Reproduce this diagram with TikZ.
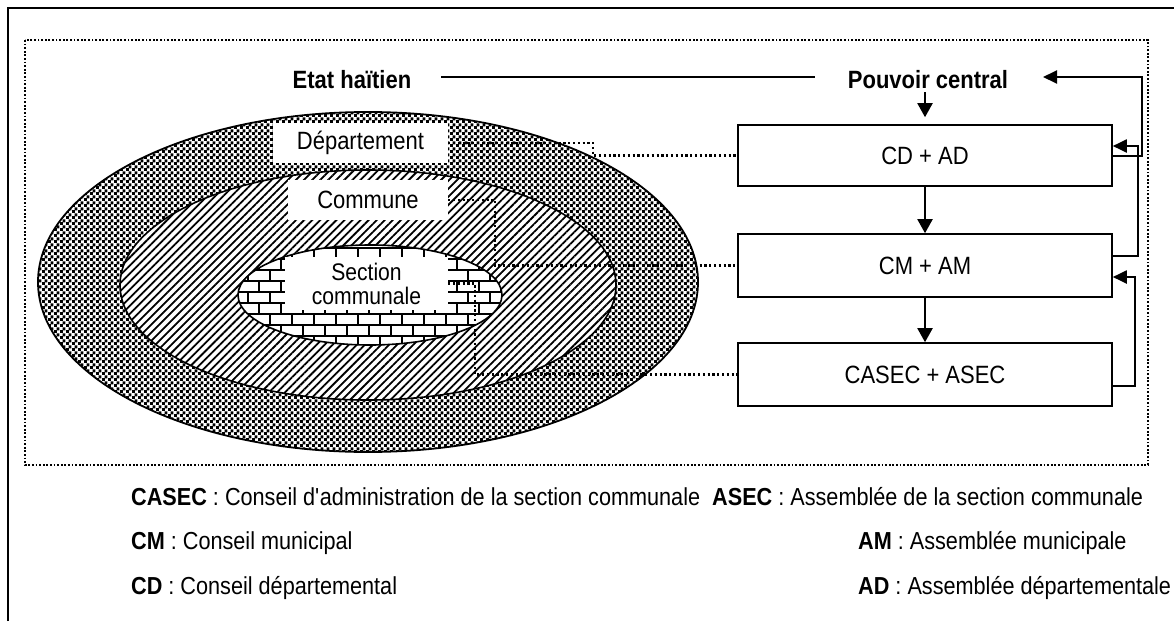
\documentclass[tikz,border=0pt]{standalone}
\usepackage{fontspec}
\setmainfont{Liberation Sans}[FakeStretch=0.88]
\usetikzlibrary{arrows.meta,patterns,patterns.meta,calc}

% fine checkerboard used for the département ring
\pgfdeclarepatternformonly{finechecks}{\pgfpointorigin}{\pgfqpoint{6pt}{6pt}}{\pgfqpoint{6pt}{6pt}}{%
  \pgfpathrectangle{\pgfpointorigin}{\pgfqpoint{3.4pt}{3.4pt}}%
  \pgfpathrectangle{\pgfqpoint{3pt}{3pt}}{\pgfqpoint{3.4pt}{3.4pt}}%
  \pgfusepath{fill}}

\begin{document}
\begin{tikzpicture}[x=1pt,y=-1pt,
  txt/.style={font=\fontsize{25}{27}\selectfont, inner sep=0pt},
  lab/.style={txt, fill=white, minimum height=40pt},
  levelbox/.style={txt, draw, line width=1.6pt, minimum width=374pt},
  arr/.style={line width=2pt, -{Triangle[width=15pt,length=14pt]}},
  loop/.style={line width=2pt, -{Triangle[width=13pt,length=14pt]}},
  dotc/.style={line width=2.2pt, dash pattern=on 2.2pt off 2.6pt},
  framedots/.style={line width=1.8pt, dash pattern=on 1.8pt off 1.8pt},
  brick/.style={line width=2.8pt},
  leg/.style={font=\fontsize{24.6}{26}\selectfont, inner sep=0pt, anchor=base west}]
\useasboundingbox (0,0) rectangle (1174,621);

% page frame (top and left edges) and dotted enclosure
\draw[line width=2pt] (8,621) -- (8,8) -- (1174,8);
\draw[framedots] (25,40) rectangle (1148,465);

% nested territories
\draw[line width=1.8pt, fill=white, postaction={pattern=finechecks}]
  (368,282) ellipse [x radius=330, y radius=170];
\path[fill=white] (368,285) ellipse [x radius=248, y radius=115];
\draw[line width=1.6pt, pattern={Lines[angle=45, distance=5.7pt, line width=1.8pt]}]
  (368,285) ellipse [x radius=248, y radius=115];
\path[fill=white] (370,295) ellipse [x radius=132, y radius=50];
\begin{scope}
  \clip (370,295) ellipse [x radius=132, y radius=50];
  \foreach \r in {0,...,9}{
    \pgfmathsetmacro\yy{248+11*\r}
    \pgfmathsetmacro\off{mod(\r,2)*11}
    \draw[brick] (230,\yy) -- (510,\yy);
    \foreach \k in {0,...,13}{
      \draw[brick] (226+\off+22*\k,\yy) -- ++(0,11);
    }
  }
\end{scope}
\draw[line width=1.6pt] (370,295) ellipse [x radius=132, y radius=50];

% territory labels
\node[lab, minimum width=175pt] (dep) at (360.5,143) {Département};
\node[lab, minimum width=160pt] (com) at (368,200) {Commune};
\node[lab, minimum width=163pt, minimum height=53pt, align=center,
      font=\fontsize{24}{24}\selectfont] (sec) at (366.5,283.5) {Section\\communale};

% titles
\node[txt, font=\fontsize{25}{27}\selectfont\bfseries, anchor=base] (etat) at (352,88) {Etat haïtien};
\node[txt, font=\fontsize{25}{27}\selectfont\bfseries, anchor=base] (pc) at (928,88) {Pouvoir central};
\draw[line width=1.3pt, shorten <=30pt, shorten >=33pt]
  ([yshift=2pt]etat.east) -- ([yshift=2pt]pc.west);

% levels of government
\node[levelbox, minimum height=61pt] (cd) at (925,155.5) {CD + AD};
\node[levelbox, minimum height=63pt] (cm) at (925,265.5) {CM + AM};
\node[levelbox, minimum height=63pt] (casec) at (925,374.5) {CASEC + ASEC};

% top-down arrows
\draw[arr] ([yshift=-4pt]pc.south -| cd.north) -- ([yshift=7pt]cd.north);
\draw[arr] (cd.south) -- (cm.north);
\draw[arr] (cm.south) -- (casec.north);

% bottom-up feedback
\coordinate (pcin) at (1043,77);
\draw[loop] (cd.east) -- ++(29,0) |- (pcin);
\draw[loop] ([yshift=10pt]cm.east) -- ++(25,0) |- ([yshift=9.5pt]cd.east);
\draw[loop] ([yshift=-11.5pt]casec.east) -- ++(22,0) |- ([yshift=-11.5pt]cm.east);

% dotted links from territories to their councils
\draw[dotc] (dep.east) -- ++(145,0) |- (cd.west);
\draw[dotc] (com.east) -- ++(47,0) |- (cm.west);
\draw[dotc] (sec.east) -- ++(27,0) |- (casec.west);

% legend
\node[leg] (l1) at (131,505) {\textbf{CASEC} : Conseil d\textquotesingle administration de la section communale};
\node[leg] (r1) at (712,505) {\textbf{ASEC} : Assemblée de la section communale};
\node[leg] (l2) at (131,549) {\textbf{CM} : Conseil municipal};
\node[leg] (r2) at (858,549) {\textbf{AM} : Assemblée municipale};
\node[leg] (l3) at (131,594) {\textbf{CD} : Conseil départemental};
\node[leg] (r3) at (858,594) {\textbf{AD} : Assemblée départementale};
\end{tikzpicture}
\end{document}
